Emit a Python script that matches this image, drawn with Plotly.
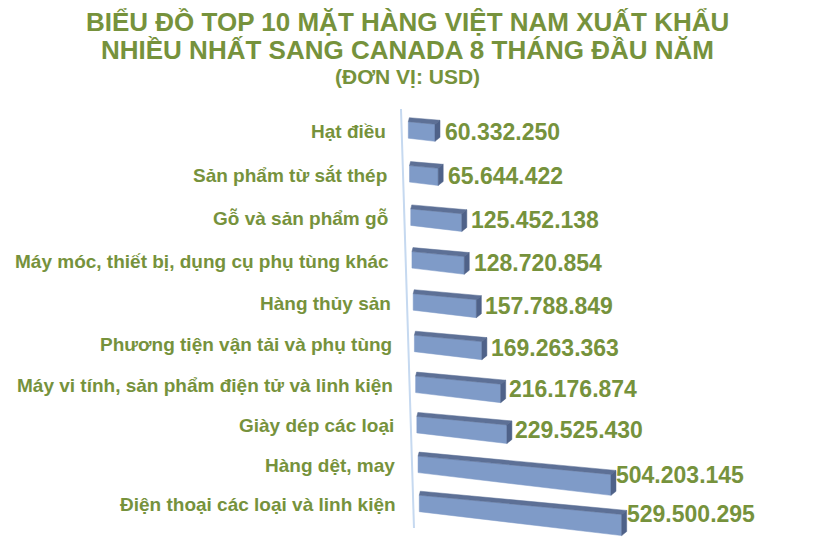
import plotly.graph_objects as go

# Data (USD), top to bottom as shown
categories = [
    "Hạt điều",
    "Sản phẩm từ sắt thép",
    "Gỗ và sản phẩm gỗ",
    "Máy móc, thiết bị, dụng cụ phụ tùng khác",
    "Hàng thủy sản",
    "Phương tiện vận tải và phụ tùng",
    "Máy vi tính, sản phẩm điện tử và linh kiện",
    "Giày dép các loại",
    "Hàng dệt, may",
    "Điện thoại các loại và linh kiện",
]
values = [60332250, 65644422, 125452138, 128720854, 157788849,
          169263363, 216176874, 229525430, 504203145, 529500295]

title_lines = [
    "BIỂU ĐỒ TOP 10 MẶT HÀNG VIỆT NAM XUẤT KHẨU",
    "NHIỀU NHẤT SANG CANADA 8 THÁNG ĐẦU NĂM",
    "(ĐƠN VỊ: USD)",
]

GREEN = "#76923C"
FRONT = "#7F9BC8"
TOP = "#5D7096"
SIDE = "#4F6289"
FONT = "Liberation Sans, Arial, sans-serif"

W, H = 820, 556
OFF = 8         # page body margin
P0 = 412.4      # screen pixel of value 0 on first row
B = 0.3745      # pixels per million USD
BASE = 4.1 / B  # bar floor depth (millions)


def px2v(p):
    return (p - P0) / B


fig = go.Figure()

# slanted value axis line
fig.add_trace(go.Scatter(x=[px2v(401), px2v(414)], y=[109, 528], mode="lines",
                         line=dict(color="#C6D9F0", width=2), hoverinfo="skip"))

annotations = []
for i, (cat, v) in enumerate(zip(categories, values)):
    m = v / 1e6
    shift = 1.22 * i / B
    L = shift - BASE
    R = shift + m
    ln = (R - L) * B
    yt = 121.7 + 44.2 * i - 0.3 * i * i
    yb = yt + 16.5
    ytr = yt + 0.095 * ln
    ybr = yb + 0.118 * ln
    dxl, dxr, dy = 1 / B, 5 / B, -4

    # front face
    fig.add_trace(go.Scatter(x=[L, R, R, L, L], y=[yt, ytr, ybr, yb, yt],
                             fill="toself", fillcolor=FRONT, mode="lines",
                             line=dict(color=FRONT, width=0.5), hoverinfo="skip"))
    # top face
    fig.add_trace(go.Scatter(x=[L, R, R + dxr, L + dxl, L],
                             y=[yt, ytr, ytr + dy, yt + dy, yt],
                             fill="toself", fillcolor=TOP, mode="lines",
                             line=dict(color=TOP, width=0.5), hoverinfo="skip"))
    # side face
    fig.add_trace(go.Scatter(x=[R, R + dxr, R + dxr, R, R],
                             y=[ytr, ytr + dy, ybr + dy, ybr, ytr],
                             fill="toself", fillcolor=SIDE, mode="lines",
                             line=dict(color=SIDE, width=0.5), hoverinfo="skip"))

    # category label
    annotations.append(dict(x=px2v(388 + 1.15 * i), y=yt + 9.5, xref="x", yref="y",
                            text=cat, showarrow=False, xanchor="right", yanchor="middle",
                            font=dict(family=FONT, size=19, color=GREEN, weight="bold")))
    # value label
    lbl = f"{v:,}".replace(",", ".")
    annotations.append(dict(x=R + (dxr * B + 4 - 0.03 * ln) / B, y=yt + 9 + 0.05 * ln,
                            xref="x", yref="y", text=lbl, showarrow=False,
                            xanchor="left", yanchor="middle",
                            font=dict(family=FONT, size=23, color=GREEN, weight="bold")))

# title lines
for txt, yy, sz in zip(title_lines, [22, 50, 76], [26, 26, 21]):
    annotations.append(dict(x=px2v(407), y=yy, xref="x", yref="y", text=txt,
                            showarrow=False, xanchor="center", yanchor="middle",
                            font=dict(family=FONT, size=sz, color=GREEN, weight="bold")))

fig.update_layout(
    width=W, height=H,
    margin=dict(l=0, r=0, t=0, b=0),
    paper_bgcolor="white", plot_bgcolor="white",
    showlegend=False,
    xaxis=dict(range=[px2v(OFF), px2v(W + OFF)], visible=False, fixedrange=True),
    yaxis=dict(range=[H + OFF, OFF], visible=False, fixedrange=True),
    annotations=annotations,
)

fig.write_html("out.html")
